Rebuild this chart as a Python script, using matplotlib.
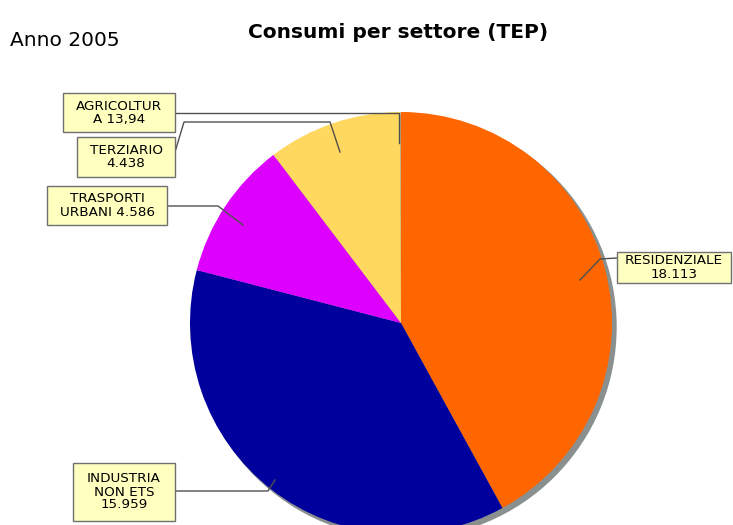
import matplotlib
matplotlib.use("Agg")
import matplotlib.pyplot as plt
from matplotlib.patches import Circle, Rectangle

# data
settori = ["RESIDENZIALE", "INDUSTRIA\nNON ETS", "TRASPORTI\nURBANI", "TERZIARIO", "AGRICOLTUR\nA"]
valori = [18113, 15959, 4586, 4438, 13.94]
etichette = ["RESIDENZIALE\n18.113", "INDUSTRIA\nNON ETS\n15.959", "TRASPORTI\nURBANI 4.586",
             "TERZIARIO\n4.438", "AGRICOLTUR\nA 13,94"]
colori = ["#ff6600", "#00009c", "#dd00ff", "#ffd860", "#999999"]

W, H = 733, 525
fig = plt.figure(figsize=(W / 100, H / 100), dpi=100)
ax = fig.add_axes([0, 0, 1, 1])

def py(y):
    # pixel row -> data y
    return H - y

cx, cy, r = 401, py(323), 211

# shadow
ax.add_patch(Circle((cx + 4, cy - 4), r, color="#8a9090", zorder=1))

wedges, _ = ax.pie(valori, colors=colori, startangle=90, counterclock=False,
                   center=(cx, cy), radius=r, frame=True,
                   wedgeprops=dict(linewidth=0, zorder=2))
ax.set_xlim(0, W)
ax.set_ylim(0, H)
ax.set_aspect("equal")
ax.axis("off")

# label boxes: (text, box x0, x1, y0, y1 in pixel rows, leader path in pixel coords)
labels = [
    (etichette[0], (617, 731, 252, 283), [(617, 258), (600, 259), (580, 280)]),
    (etichette[1], (73, 175, 463, 521), [(175, 491), (268, 491), (275, 480)]),
    (etichette[2], (47, 167, 186, 225), [(167, 206), (218, 206), (243, 225)]),
    (etichette[3], (77, 175, 137, 177), [(175, 152), (184, 122), (330, 122), (340, 152)]),
    (etichette[4], (63, 175, 93, 132), [(175, 113), (399, 113), (399, 143)]),
]
for txt, (x0, x1, y0, y1), path in labels:
    xs = [p[0] for p in path]
    ys = [py(p[1]) for p in path]
    ax.plot(xs, ys, color="#505050", lw=1, zorder=3)
    ax.add_patch(Rectangle((x0, py(y1)), x1 - x0, y1 - y0, fc="#ffffc0",
                           ec="#707070", lw=1, zorder=4))
    ax.text((x0 + x1) / 2, py((y0 + y1) / 2), txt, ha="center", va="center",
            fontsize=9.7, family="DejaVu Sans", linespacing=1.0, zorder=5)

ax.text(398, py(32), "Consumi per settore (TEP)", ha="center", va="center",
        fontsize=14.5, fontweight="bold", family="DejaVu Sans")
ax.text(10, py(41), "Anno 2005", ha="left", va="center", fontsize=14.5,
        family="DejaVu Sans")

fig.savefig("out.png", dpi=100)
